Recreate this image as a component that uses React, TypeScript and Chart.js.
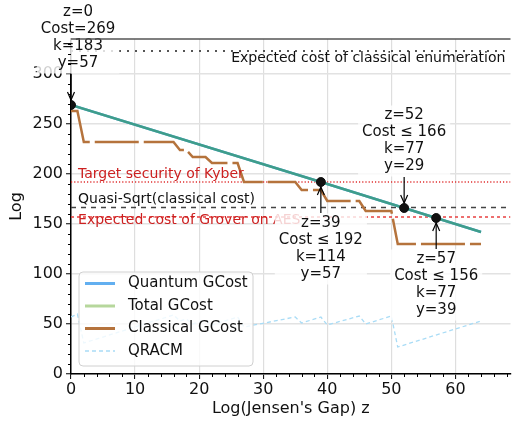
import React, { useEffect, useRef } from 'react';
import { Chart, registerables } from 'chart.js';

Chart.register(...registerables);

// ---------------- data ----------------
const seriesLabels = ['Quantum GCost', 'Total GCost', 'Classical GCost', 'QRACM'];

const gcostZ = [0, 39, 52, 57, 64];
const quantumGCost = [269, 192, 166, 156, 142];
const totalGCost = [269, 192, 166, 156, 142];

const classicalZ = [0, 1, 2, 16, 17, 18, 19, 21, 22, 26, 27, 35, 36, 39, 40, 45, 46, 50, 51, 64];
const classicalGCost = [263, 263, 232, 232, 224, 224, 217, 217, 211, 211, 192, 192, 184, 184, 173, 173, 163, 163, 130, 130];

const qracmZ = [0, 1, 2, 16, 17, 18, 19, 21, 22, 26, 27, 35, 36, 39, 40, 45, 46, 50, 51, 64];
const qracm = [57, 60, 31, 59, 53, 55, 50, 54, 49, 57, 47, 57, 51, 57, 49, 58, 50, 58, 27, 53];

const refLabels = [
  'Expected cost of classical enumeration',
  'Target security of Kyber',
  'Quasi-Sqrt(classical cost)',
  'Expected cost of Grover on AES',
];
const refValues = [323, 192, 166.5, 157];

const markerZ = [0, 39, 52, 57];
const markerCost = [269, 192, 166, 156];
const markerK = [183, 114, 77, 77];
const markerY = [57, 57, 29, 39];
const markerRel = ['=', ' ≤ ', ' ≤ ', ' ≤ '];

const xTicks = [0, 10, 20, 30, 40, 50, 60];
const yTicks = [0, 50, 100, 150, 200, 250, 300];
const xMinorStep = 2;
const yMinorStep = 10;
const xMax = 68.6;
const yMax = 335;

// ---------------- styles ----------------
const FONT = "'DejaVu Sans', sans-serif";
const COL_QUANTUM = '#62aff0';
const COL_TOTAL = '#b6d79c';
const COL_LINE = '#3f9d8a';
const COL_CLASSICAL = '#b5733c';
const COL_QRACM = '#a9dcf6';
const RED = '#cc2020';
const legendColors = [COL_QUANTUM, COL_TOTAL, COL_CLASSICAL, COL_QRACM];
const legendDash = [[], [], [], [4, 3]];
const refStyles = [
  { color: '#555555', dash: [2, 6], width: 2, textColor: '#111', textX: 25, dy: 7 },
  { color: '#e03030', dash: [1.2, 2], width: 1.3, textColor: RED, textX: 1.1, dy: -8 },
  { color: '#444444', dash: [5, 5], width: 1.5, textColor: '#111', textX: 1.1, dy: -8 },
  { color: '#e84040', dash: [3, 3], width: 1.5, textColor: RED, textX: 1.1, dy: 3 },
];
const annotDir = [-1, 1, -1, 1];
const annotDx = [7, 0, 0, 0];

export default function App() {
  const ref = useRef<HTMLCanvasElement>(null);

  useEffect(() => {
    document.body.style.margin = '0';
    const canvas = ref.current!;
    const pts = (xs: number[], ys: number[]) => xs.map((x, i) => ({ x, y: ys[i] }));
    const hline = (v: number) => [{ x: 0, y: v }, { x: xMax, y: v }];

    const overlay = {
      id: 'overlay',
      afterDatasetsDraw(chart: any) {
        const { ctx, chartArea: ca, scales } = chart;
        const sx = scales.x;
        const sy = scales.y;
        ctx.save();

        // reference line labels
        ctx.font = `14px ${FONT}`;
        ctx.textBaseline = 'middle';
        ctx.textAlign = 'left';
        refLabels.forEach((t, i) => {
          const st = refStyles[i];
          ctx.fillStyle = st.textColor;
          ctx.fillText(t, sx.getPixelForValue(st.textX), sy.getPixelForValue(refValues[i]) + st.dy);
        });

        // annotations
        ctx.font = `15px ${FONT}`;
        ctx.textAlign = 'center';
        markerZ.forEach((z, i) => {
          const px = sx.getPixelForValue(z);
          const py = sy.getPixelForValue(markerCost[i]);
          const dir = annotDir[i];
          const lines = [
            `z=${z}`,
            `Cost${markerRel[i]}${markerCost[i]}`,
            `k=${markerK[i]}`,
            `y=${markerY[i]}`,
          ];
          const offs = dir < 0 ? [-92.5, -75.5, -58.5, -41.5] : [41.5, 58.5, 75.5, 92.5];
          const cx = px + annotDx[i];
          const w = Math.max(...lines.map((l) => ctx.measureText(l).width)) + 8;
          const top = py + offs[0] - 10;
          const bot = py + offs[3] + 10;
          ctx.fillStyle = 'rgba(255,255,255,0.8)';
          ctx.fillRect(cx - w / 2, top, w, bot - top);
          // arrow
          const y1 = py + dir * 31;
          const y2 = py + dir * 5;
          ctx.strokeStyle = '#000';
          ctx.lineWidth = 1.2;
          ctx.beginPath();
          ctx.moveTo(px, y1);
          ctx.lineTo(px, y2);
          ctx.stroke();
          ctx.beginPath();
          ctx.moveTo(px - 3.5, y2 + dir * 8);
          ctx.lineTo(px, y2);
          ctx.lineTo(px + 3.5, y2 + dir * 8);
          ctx.stroke();
          ctx.fillStyle = '#111';
          lines.forEach((l, j) => ctx.fillText(l, cx, py + offs[j]));
        });

        // legend
        const bx = ca.left + 8;
        const bw = 174;
        const bh = 94;
        const by = ca.bottom - 8 - bh;
        ctx.beginPath();
        const r = 4;
        ctx.moveTo(bx + r, by);
        ctx.arcTo(bx + bw, by, bx + bw, by + bh, r);
        ctx.arcTo(bx + bw, by + bh, bx, by + bh, r);
        ctx.arcTo(bx, by + bh, bx, by, r);
        ctx.arcTo(bx, by, bx + bw, by, r);
        ctx.closePath();
        ctx.fillStyle = 'rgba(255,255,255,0.8)';
        ctx.fill();
        ctx.strokeStyle = '#d0d0d0';
        ctx.lineWidth = 1;
        ctx.stroke();
        ctx.font = `15px ${FONT}`;
        ctx.textAlign = 'left';
        seriesLabels.forEach((lab, i) => {
          const yy = by + 11.5 + i * 22.5;
          ctx.strokeStyle = legendColors[i];
          ctx.lineWidth = i === 3 ? 1.5 : 3;
          ctx.setLineDash(legendDash[i]);
          ctx.beginPath();
          ctx.moveTo(bx + 6, yy);
          ctx.lineTo(bx + 36, yy);
          ctx.stroke();
          ctx.setLineDash([]);
          ctx.fillStyle = '#111';
          ctx.fillText(lab, bx + 49, yy);
        });

        // top spine
        ctx.strokeStyle = '#555';
        ctx.lineWidth = 1.5;
        ctx.beginPath();
        ctx.moveTo(ca.left, ca.top);
        ctx.lineTo(ca.right, ca.top);
        ctx.stroke();

        // minor ticks
        ctx.strokeStyle = '#000';
        ctx.lineWidth = 1;
        ctx.beginPath();
        for (let v = 0; v <= xMax; v += xMinorStep) {
          if (v % 10 === 0) continue;
          const x = Math.round(sx.getPixelForValue(v)) + 0.5;
          ctx.moveTo(x, ca.bottom);
          ctx.lineTo(x, ca.bottom + 3);
        }
        for (let v = 0; v <= yMax; v += yMinorStep) {
          if (v % 50 === 0) continue;
          const y = Math.round(sy.getPixelForValue(v)) + 0.5;
          ctx.moveTo(ca.left, y);
          ctx.lineTo(ca.left - 3, y);
        }
        ctx.stroke();
        ctx.restore();
      },
    };

    const chart = new Chart(canvas, {
      type: 'line',
      data: {
        datasets: [
          {
            label: 'markers',
            type: 'scatter',
            data: pts(markerZ, markerCost),
            pointRadius: 4.5,
            pointBackgroundColor: '#111',
            pointBorderColor: '#111',
            showLine: false,
          } as any,
          {
            label: seriesLabels[1],
            data: pts(gcostZ, totalGCost),
            borderColor: COL_LINE,
            borderWidth: 2.5,
            pointRadius: 0,
          },
          {
            label: seriesLabels[0],
            data: pts(gcostZ, quantumGCost),
            borderColor: COL_QUANTUM,
            borderWidth: 2.5,
            pointRadius: 0,
          },
          {
            label: seriesLabels[2],
            data: pts(classicalZ, classicalGCost),
            borderColor: COL_CLASSICAL,
            borderWidth: 2.5,
            borderDash: [44, 5],
            pointRadius: 0,
          },
          {
            label: seriesLabels[3],
            data: pts(qracmZ, qracm),
            borderColor: COL_QRACM,
            borderWidth: 1.3,
            borderDash: [4, 3],
            pointRadius: 0,
          },
          ...refValues.map((v, i) => ({
            label: refLabels[i],
            data: hline(v),
            borderColor: refStyles[i].color,
            borderWidth: refStyles[i].width,
            borderDash: refStyles[i].dash,
            pointRadius: 0,
          })),
        ],
      },
      options: {
        responsive: false,
        animation: false,
        devicePixelRatio: 1,
        layout: { padding: { top: 39, right: 0, left: 0, bottom: 0 } },
        plugins: { legend: { display: false }, tooltip: { enabled: false } },
        scales: {
          x: {
            type: 'linear',
            min: 0,
            max: xMax,
            afterBuildTicks: (s: any) => {
              s.ticks = xTicks.map((v) => ({ value: v }));
            },
            afterFit: (s: any) => {
              s.height = 47;
            },
            ticks: { font: { family: FONT, size: 16 }, color: '#111', padding: 1, maxRotation: 0 },
            grid: { color: '#dedede', lineWidth: 1.2, tickLength: 5, tickColor: '#000', tickWidth: 1 },
            border: { color: '#000', width: 1.5 },
            title: {
              display: true,
              text: "Log(Jensen's Gap) z",
              font: { family: FONT, size: 16 },
              color: '#111',
              padding: { top: 0, bottom: 3 },
            },
          },
          y: {
            type: 'linear',
            min: 0,
            max: yMax,
            afterBuildTicks: (s: any) => {
              s.ticks = yTicks.map((v) => ({ value: v }));
            },
            afterFit: (s: any) => {
              s.width = 71;
            },
            ticks: { font: { family: FONT, size: 16 }, color: '#111', padding: 3 },
            grid: { color: '#e2e2e2', lineWidth: 1.5, tickLength: 5, tickColor: '#000', tickWidth: 1 },
            border: { color: '#000', width: 1.5 },
            title: {
              display: true,
              text: 'Log',
              font: { family: FONT, size: 16 },
              color: '#111',
              padding: { top: 7, bottom: 0 },
            },
          },
        },
      },
      plugins: [overlay],
    });
    return () => chart.destroy();
  }, []);

  return (
    <div style={{ position: 'absolute', left: 0, top: 0, width: 516, height: 421 }}>
      <canvas ref={ref} width={516} height={421} style={{ display: 'block' }} />
    </div>
  );
}
